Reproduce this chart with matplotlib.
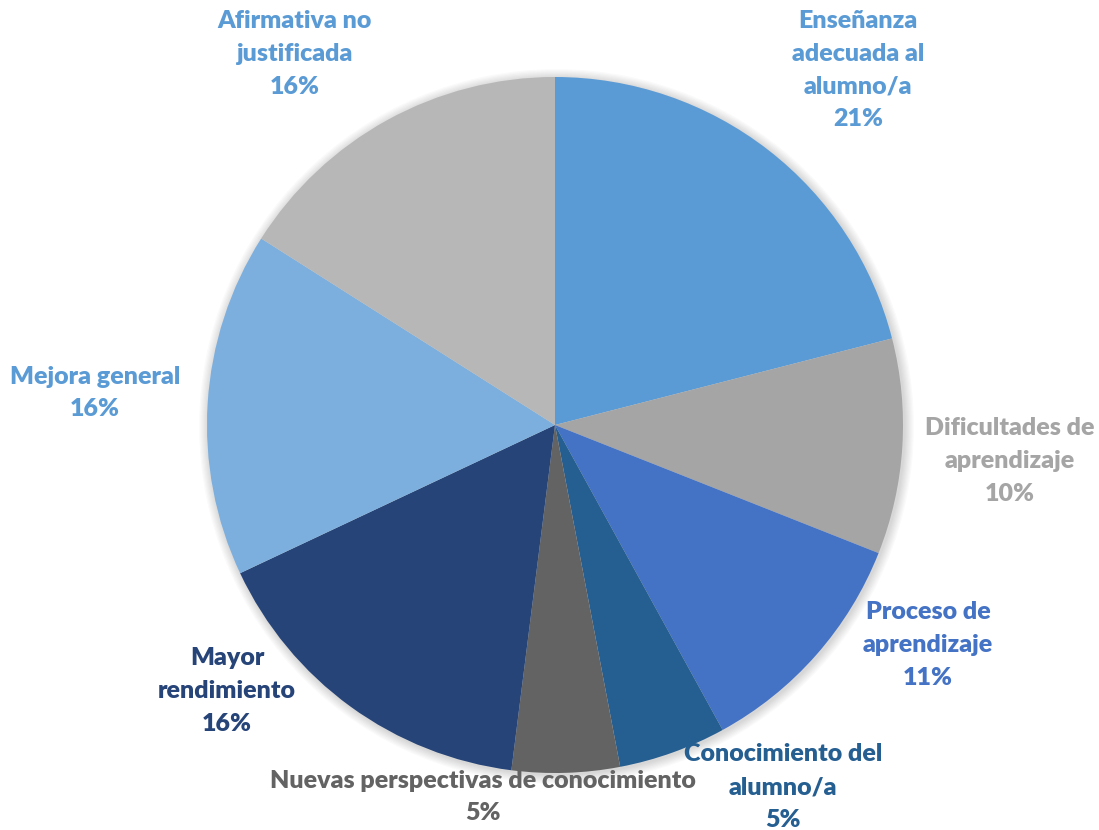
import matplotlib.pyplot as plt
from matplotlib.patches import Circle

# Categories in clockwise order from 12 o'clock
categories = [
    "Enseñanza\nadecuada al\nalumno/a",
    "Dificultades de\naprendizaje",
    "Proceso de\naprendizaje",
    "Conocimiento del\nalumno/a",
    "Nuevas perspectivas de conocimiento",
    "Mayor\nrendimiento",
    "Mejora general",
    "Afirmativa no\njustificada",
]
percentages = [21, 10, 11, 5, 5, 16, 16, 16]

slice_colors = ["#5B9BD5", "#A5A5A5", "#4472C4", "#255E91",
                "#636363", "#264478", "#7CAFDD", "#B7B7B7"]
label_colors = ["#5B9BD5", "#A5A5A5", "#4472C4", "#255E91",
                "#636363", "#264478", "#5B9BD5", "#5B9BD5"]

# label anchor positions in pixel space (x, y from top)
label_pos = [(858, 70), (1010, 461), (928, 645), (783, 787),
             (483, 797), (227, 691), (95, 393), (295, 54)]

W, H = 1099, 830
cx, cy, r = 555, 425, 348

fig = plt.figure(figsize=(W / 100, H / 100), dpi=100)
ax = fig.add_axes([0, 0, 1, 1])

# soft drop shadow behind the pie
for k in range(8):
    ax.add_patch(Circle((cx + 1.5, H - cy - 1.5), r + 1 + k * 1.2,
                        color="black", alpha=0.018, lw=0, zorder=0))

ax.pie(percentages, colors=slice_colors, startangle=90, counterclock=False,
       center=(cx, H - cy), radius=r, frame=True,
       wedgeprops=dict(linewidth=0, zorder=1))
ax.set_xlim(0, W)
ax.set_ylim(0, H)
ax.set_aspect("equal")
ax.axis("off")

for cat, pct, col, (lx, ly) in zip(categories, percentages, label_colors, label_pos):
    ax.text(lx, H - ly, f"{cat}\n{pct}%", ha="center", va="center",
            color=col, fontsize=18, fontweight="heavy", family="Lato",
            linespacing=1.6)

fig.savefig("out.png", dpi=100, facecolor="white")
